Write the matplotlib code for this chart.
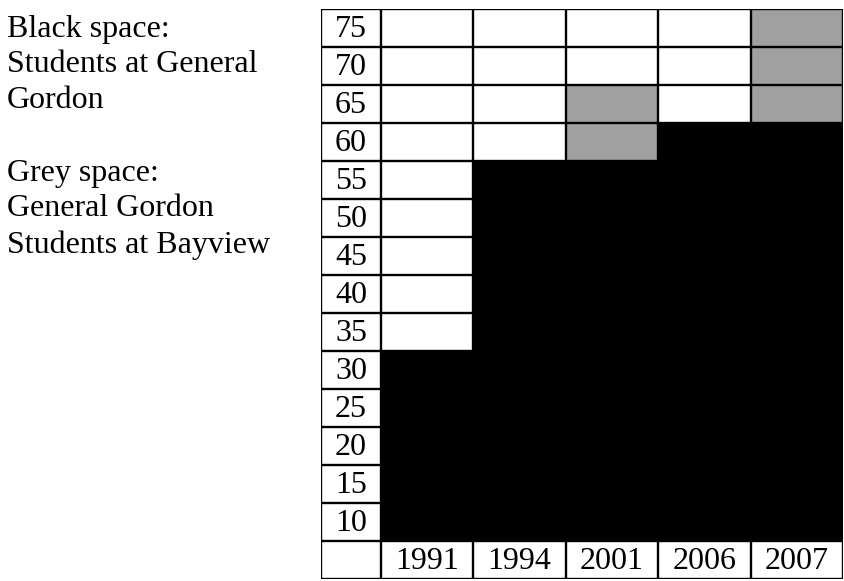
import matplotlib.pyplot as plt
import numpy as np

plt.rcParams['font.family'] = ['Liberation Serif', 'DejaVu Serif']

# data
rows = [75, 70, 65, 60, 55, 50, 45, 40, 35, 30, 25, 20, 15, 10]
years = ['1991', '1994', '2001', '2006', '2007']
black_top = [30, 55, 55, 60, 60]   # students at General Gordon
grey_top = [30, 55, 65, 60, 75]    # General Gordon students at Bayview

W, H = 844, 581
fig = plt.figure(figsize=(W / 100, H / 100), dpi=100)

# table box in pixels
left, right, top, bottom = 321, 843, 9, 579
ax = fig.add_axes([left / W, (H - bottom) / H, (right - left) / W, (bottom - top) / H])

col_w = (right - 381) / len(years)
lab_w = -(381 - left) / col_w
step = 5
ymin = min(rows) - step * 1.5
ymax = max(rows) + step / 2
ax.set_xlim(lab_w, len(years))
ax.set_ylim(ymin, ymax)
ax.axis('off')

x = np.arange(len(years)) + 0.5
base = min(rows) - step / 2
bt = np.array(black_top) + step / 2
gt = np.array(grey_top) + step / 2
ax.bar(x, bt - base, bottom=base, width=1.0, color='black', zorder=1)
ax.bar(x, gt - bt, bottom=bt, width=1.0, color='#a0a0a0', zorder=1)

# grid lines
lw = 1.7
for y in [ymin] + [r - step / 2 for r in rows] + [ymax]:
    ax.plot([lab_w, len(years)], [y, y], color='black', lw=lw, zorder=3,
            solid_capstyle='projecting')
for xv in [lab_w] + list(range(len(years) + 1)):
    ax.plot([xv, xv], [ymin, ymax], color='black', lw=lw, zorder=3,
            solid_capstyle='projecting')

# labels
for r in rows:
    ax.text(lab_w / 2, r - 0.2, str(r), ha='center', va='center', fontsize=23, zorder=4)
for xi, yr in zip(x, years):
    ax.text(xi, min(rows) - step - 0.2, yr, ha='center', va='center', fontsize=23, zorder=4)

# legend text on the left
lines = ['Black space:', 'Students at General', 'Gordon', '',
         'Grey space:', 'General Gordon', 'Students at Bayview']
for i, t in enumerate(lines):
    fig.text(7 / W, 1 - (29 + i * 36) / H, t, ha='left', va='center', fontsize=23)

fig.savefig('out.png', dpi=100)
